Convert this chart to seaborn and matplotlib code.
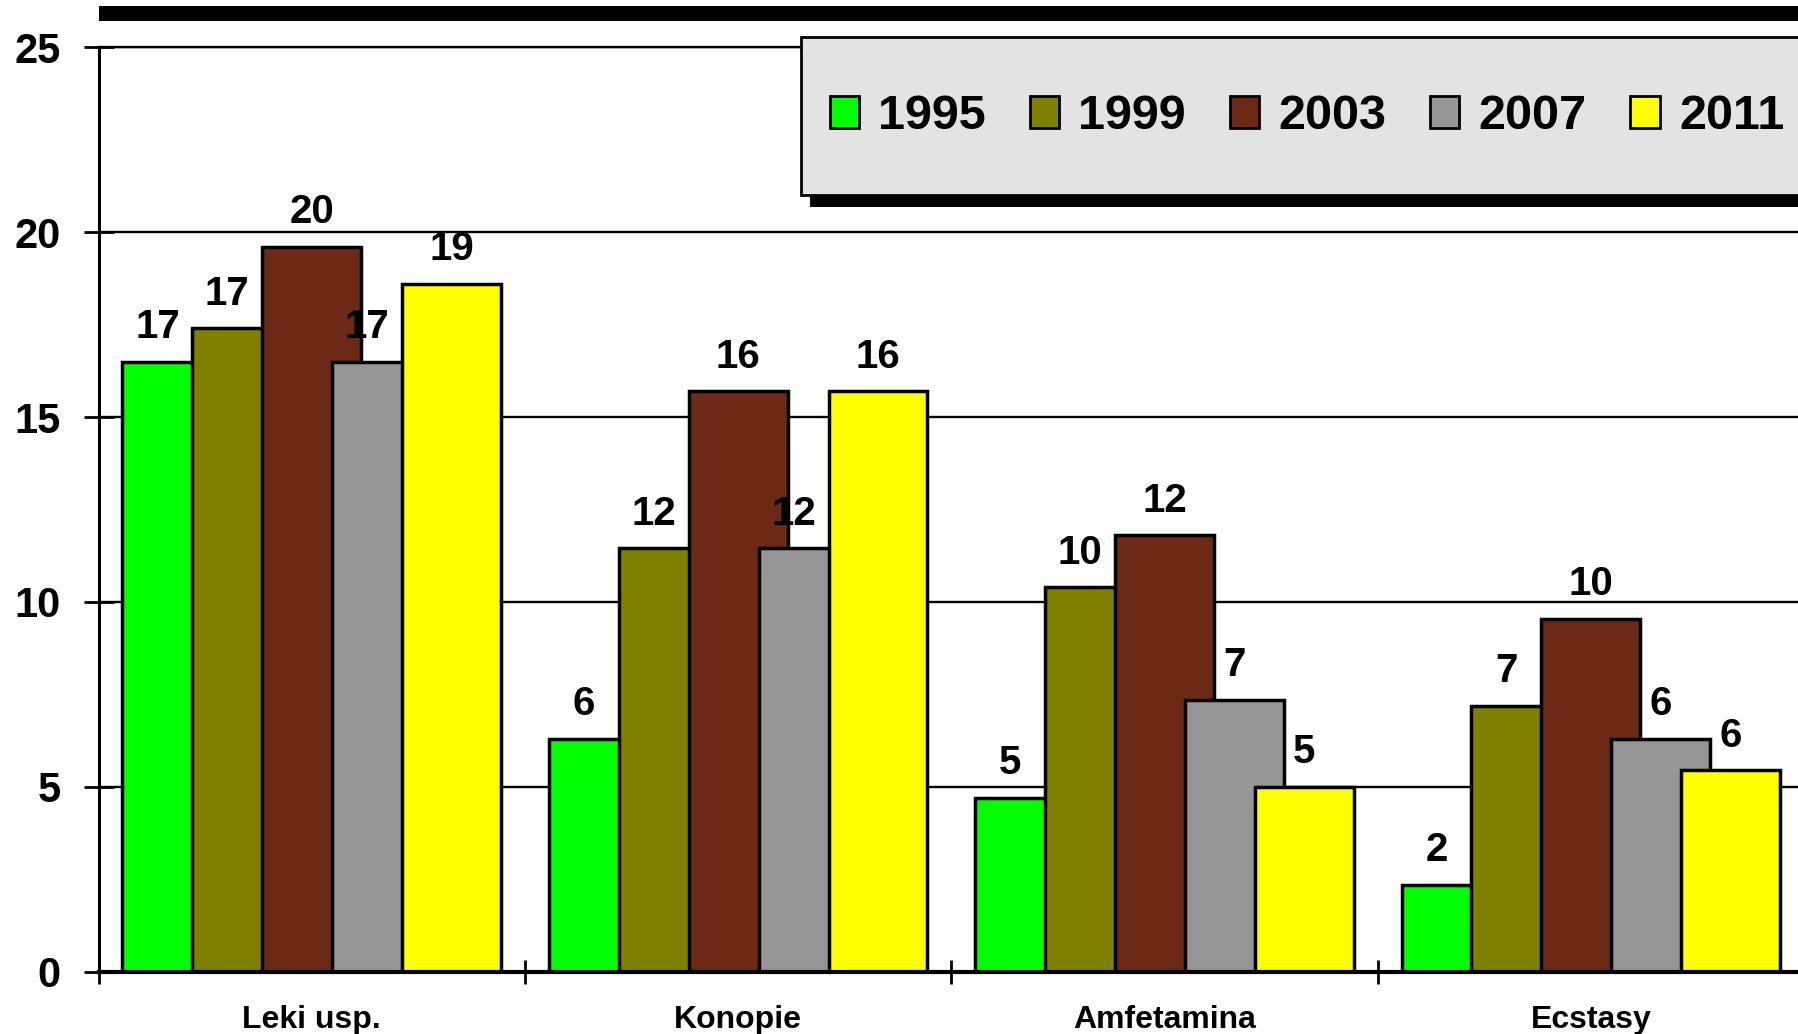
import matplotlib
matplotlib.use("Agg")
import matplotlib.pyplot as plt
from matplotlib.patches import Rectangle, Patch
from matplotlib.ticker import FixedLocator
import pandas as pd
import seaborn as sns

categories = ["Leki usp.", "Konopie", "Amfetamina", "Ecstasy"]
years = ["1995", "1999", "2003", "2007", "2011"]

# values (percent)
values_1995 = [16.5, 6.3, 4.7, 2.35]
values_1999 = [17.4, 11.45, 10.4, 7.2]
values_2003 = [19.6, 15.7, 11.8, 9.55]
values_2007 = [16.5, 11.45, 7.35, 6.3]
values_2011 = [18.6, 15.7, 5.0, 5.45]

# numbers printed above the bars
labels_1995 = ["17", "6", "5", "2"]
labels_1999 = ["17", "12", "10", "7"]
labels_2003 = ["20", "16", "12", "10"]
labels_2007 = ["17", "12", "7", "6"]
labels_2011 = ["19", "16", "5", "6"]

colors = ["#00FF00", "#808000", "#6B2916", "#969696", "#FFFF00"]
y_ticks = [0, 5, 10, 15, 20, 25]


def build_frame():
    rows = []
    all_values = [values_1995, values_1999, values_2003, values_2007, values_2011]
    for year, vals in zip(years, all_values):
        for cat, v in zip(categories, vals):
            rows.append({"Substance": cat, "Year": year, "Percent": v})
    return pd.DataFrame(rows)


def widen_bars(ax, extra):
    # bars overlap each other like in the original chart
    for cont in ax.containers:
        for bar in cont.patches:
            bar.set_x(bar.get_x() - extra / 2)
            bar.set_width(bar.get_width() + extra)


def add_value_labels(ax):
    all_labels = [labels_1995, labels_1999, labels_2003, labels_2007, labels_2011]
    bars_by_year = [sorted(c.patches, key=lambda p: p.get_x()) for c in ax.containers]
    for k, (bars, labels) in enumerate(zip(bars_by_year, all_labels)):
        for i, bar in enumerate(bars):
            left = bar.get_x()
            h = bar.get_height()
            xc = left + bar.get_width() / 2
            if k < len(bars_by_year) - 1:
                nxt = bars_by_year[k + 1][i]
                if nxt.get_height() >= h:
                    xc = (left + nxt.get_x()) / 2
            ax.annotate(labels[i], (xc, h), xytext=(0, 17), textcoords="offset points",
                        ha="center", va="baseline", fontsize=29, fontweight="bold", color="black")


df = build_frame()

sns.set_theme(style="white")
plt.rcParams['font.family'] = ['Liberation Sans', 'DejaVu Sans']
plt.rcParams['font.weight'] = 'bold'
plt.rcParams['text.color'] = 'black'

fig = plt.figure(figsize=(17.99, 10.34), dpi=100)
ax = fig.add_axes([0.0548, 0.060, 0.948, 0.8945])

sns.barplot(data=df, x="Substance", y="Percent", hue="Year", order=categories, hue_order=years,
            palette=colors, width=0.82, saturation=1, edgecolor="black", linewidth=2.5,
            errorbar=None, legend=False, ax=ax)
widen_bars(ax, 0.068)
add_value_labels(ax)

ax.set_xlim(-0.5, 3.5)
ax.set_ylim(0, 25)
ax.set_yticks(y_ticks)
ax.yaxis.grid(True, color="black", linewidth=1.7)
ax.xaxis.grid(False)
ax.set_axisbelow(True)
ax.set_xlabel("")
ax.set_ylabel("")
ax.spines["right"].set_visible(False)
ax.spines["top"].set_color("black")
ax.spines["top"].set_linewidth(1.7)
ax.spines["left"].set_color("black")
ax.spines["left"].set_linewidth(2.2)
ax.spines["bottom"].set_color("black")
ax.spines["bottom"].set_linewidth(3)

ax.tick_params(axis="y", direction="inout", length=21, width=2, pad=17, labelsize=30,
               color="black", labelcolor="black", left=True)
ax.tick_params(axis="x", which="major", length=0, pad=24, labelsize=23, labelcolor="black")
ax.xaxis.set_minor_locator(FixedLocator([-0.5, 0.5, 1.5, 2.5]))
ax.tick_params(axis="x", which="minor", direction="inout", length=17, width=2,
               color="black", bottom=True)

# thick black bar above the plot
fig.add_artist(Rectangle((0.0548, 0.980), 0.95, 0.0145, transform=fig.transFigure,
                         facecolor="black", edgecolor="none"))

# legend box with its shadow
fig.add_artist(Rectangle((0.4503, 0.800), 0.6, 0.1535, transform=fig.transFigure,
                         facecolor="black", edgecolor="none"))
fig.add_artist(Rectangle((0.445, 0.8113), 0.6, 0.1532, transform=fig.transFigure,
                         facecolor="#E3E3E3", edgecolor="black", linewidth=2))

handles = [Patch(facecolor=c, edgecolor="black", linewidth=2) for c in colors]
fig.legend(handles=handles, labels=years, loc="center left", bbox_to_anchor=(0.4611, 0.887),
           ncol=5, frameon=False, prop={"size": 35, "weight": "bold"}, labelcolor="black",
           handlelength=0.6, handleheight=0.64, handletextpad=0.4, columnspacing=0.9,
           borderpad=0, borderaxespad=0)

fig.savefig("out.png", dpi=100)
